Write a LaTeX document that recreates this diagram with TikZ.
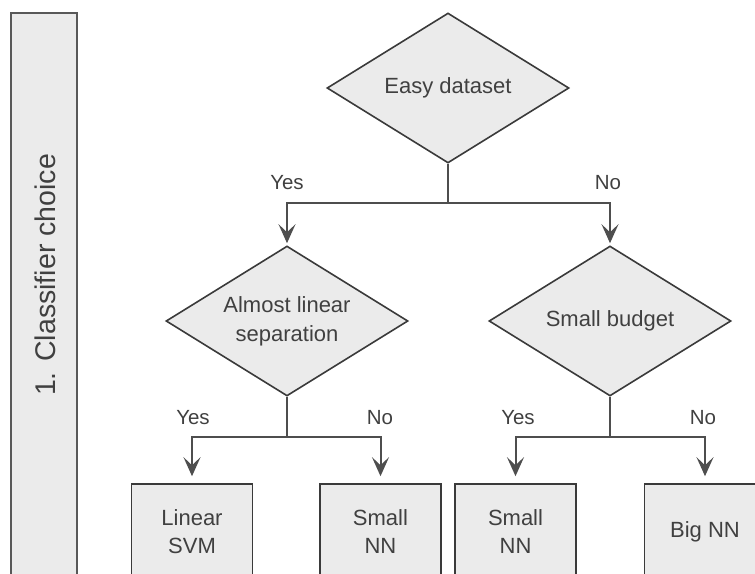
\documentclass[tikz,border=0pt]{standalone}
\usepackage{fontspec}
\setmainfont{Liberation Sans}
\usetikzlibrary{shapes.geometric,arrows.meta}

\definecolor{boxfill}{HTML}{EBEBEB}
\definecolor{edge}{HTML}{3A3A3A}
\definecolor{ink}{HTML}{404040}

\tikzset{
  decision/.style={diamond, aspect=1.613, draw=edge, fill=boxfill, line width=1.6pt,
    minimum width=242pt, minimum height=150pt, inner sep=0pt,
    text=ink, align=center, font=\fontsize{22}{29}\selectfont},
  leaf/.style={rectangle, draw=edge, fill=boxfill, line width=1.6pt,
    minimum width=121pt, minimum height=96pt, inner sep=0pt,
    text=ink, align=center, font=\fontsize{22}{28}\selectfont},
  band/.style={rectangle, draw=edge!85, fill=boxfill, line width=2pt},
  answer/.style={text=ink, font=\fontsize{20.5}{24}\selectfont, inner sep=0pt},
  link/.style={draw=edge!90, line width=2pt},
  flow/.style={link, -{Stealth[length=19pt,width=17pt,inset=8pt]}},
}

\begin{document}
\begin{tikzpicture}[x=1pt,y=-1pt]
  \useasboundingbox (0,0) rectangle (755,573);
  \clip (0,0) rectangle (755,573);

  % side band with the stage title
  \draw[band] (11,13) rectangle (77,610);
  \node[text=ink, rotate=90, font=\fontsize{28.5}{32}\selectfont] (stage) at (45,275) {1. Classifier choice};

  % decisions
  \node[decision] (easy) at (448,88) {Easy dataset};
  \node[decision] (linsep) at (287,321) {Almost linear\\separation};
  \node[decision] (budget) at (610,321) {Small budget};

  % outcomes
  \node[leaf] (svm) at (192,532) {Linear\\SVM};
  \node[leaf] (snnA) at (380.5,532) {Small\\NN};
  \node[leaf] (snnB) at (515.5,532) {Small\\NN};
  \node[leaf] (big) at (705,532) {Big NN};

  % branch points
  \coordinate (j0) at (448,203);
  \coordinate (j1) at (287,437);
  \coordinate (j2) at (610,437);

  \draw[link] (easy.south) -- (j0);
  \draw[flow, shorten >=2pt] (j0) -| (linsep.north);
  \draw[flow, shorten >=2pt] (j0) -| (budget.north);

  \draw[link] (linsep.south) -- (j1);
  \draw[flow, shorten >=7pt] (j1) -| (svm.north);
  \draw[flow, shorten >=7pt] (j1) -| (snnA.north);

  \draw[link] (budget.south) -- (j2);
  \draw[flow, shorten >=7pt] (j2) -| (snnB.north);
  \draw[flow, shorten >=7pt] (j2) -| (big.north);

  % answers
  \node[answer] (y0) at (287,183) {Yes};
  \node[answer] (n0) at (608,183) {No};
  \node[answer] (y1) at (193,418) {Yes};
  \node[answer] (n1) at (380,418) {No};
  \node[answer] (y2) at (518,418) {Yes};
  \node[answer] (n2) at (703,418) {No};
\end{tikzpicture}
\end{document}
